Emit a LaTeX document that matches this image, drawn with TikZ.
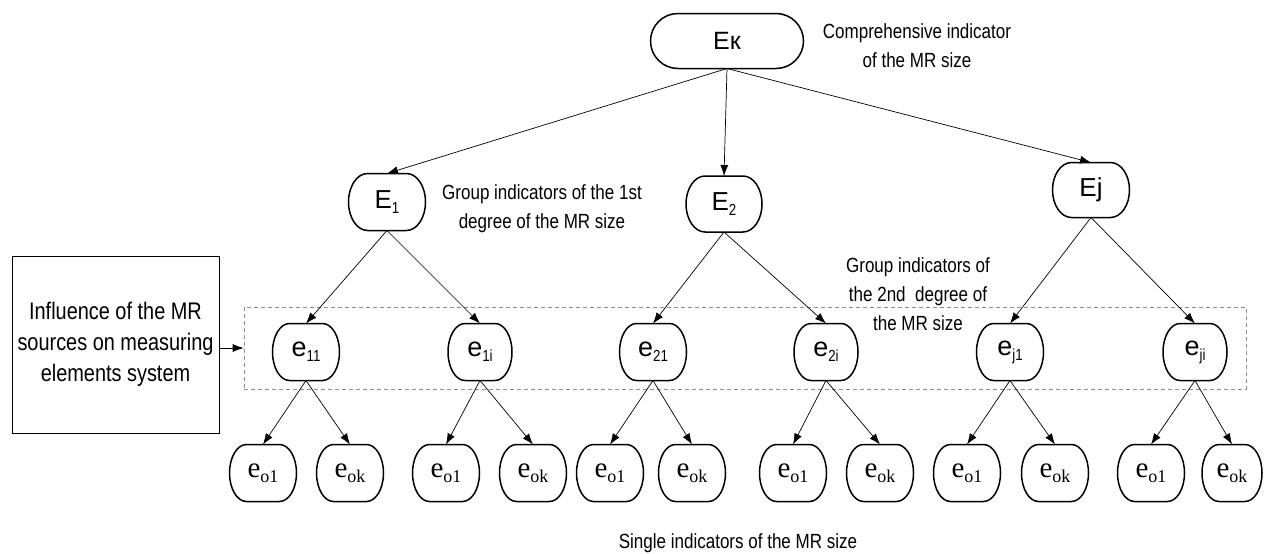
\documentclass[tikz,border=0pt]{standalone}
\usepackage{fontspec}
\setmainfont{Liberation Sans}
\newfontfamily\narrowfont[FakeStretch=0.83]{Liberation Sans}
\newfontfamily\serifont{Liberation Serif}
\usetikzlibrary{arrows.meta}
\newcommand{\subsans}[1]{\raisebox{-5pt}{\narrowfont\fontsize{16}{16}\selectfont #1}}
\newcommand{\subserif}[1]{\raisebox{-5pt}{\serifont\fontsize{18}{18}\selectfont #1}}
\tikzset{
  ind/.style={inner sep=0pt, outer sep=0pt, minimum width=67pt, minimum height=57pt,
    font=\fontsize{27}{27}\selectfont},
  topind/.style={ind, minimum width=153pt, minimum height=55pt, font=\fontsize{25}{25}\selectfont},
  firstind/.style={ind, minimum width=77pt, minimum height=57pt, font=\fontsize{26}{26}\selectfont},
  single/.style={ind, font=\serifont\fontsize{29}{29}\selectfont},
  border/.style={draw, line width=1.5pt},
  lbl/.style={font=\narrowfont\fontsize{20.5}{29}\selectfont, align=center, inner sep=0pt},
  arr/.style={-{Latex[length=11pt,width=8pt]}, line width=0.7pt},
  grpbox/.style={draw=black!45, line width=0.6pt, dash pattern=on 4pt off 3pt},
  srcbox/.style={draw, line width=0.8pt, minimum width=207pt, minimum height=177pt,
    align=center, font=\narrowfont\fontsize{24}{31}\selectfont},
}
% soft box border: node name, horizontal corner radius, half height
\newcommand{\softborder}[3]{%
  \draw[border] ([xshift=#2]#1.north west) -- ([xshift=-#2]#1.north east)
    arc[start angle=90, end angle=-90, x radius=#2, y radius=#3]
    -- ([xshift=#2]#1.south west)
    arc[start angle=270, end angle=90, x radius=#2, y radius=#3] -- cycle;}
\begin{document}
\begin{tikzpicture}[x=1pt,y=-1pt]
\useasboundingbox (0,0) rectangle (1264,554);

% dashed group of second-degree indicators
\node[grpbox, minimum width=1002pt, minimum height=82pt, inner sep=0pt] (grp) at (745,348) {};

% source box
\node[srcbox] (src) at (115.5,344.5) {Influence of the MR\\sources on measuring\\elements system};

% top
\node[topind] (Ek) at (727,41) {Eк};

% first degree
\node[firstind] (E1) at (387,202) {E\subsans{1}};
\node[firstind, minimum width=76pt, minimum height=56pt] (E2) at (724,204) {E\subsans{2}};
\node[firstind, minimum width=77pt, minimum height=55pt] (Ej) at (1091,190) {Ej};

% second degree
\node[ind] (e11) at (306,352) {e\subsans{11}};
\node[ind, minimum width=64pt] (e1i) at (480,352) {e\subsans{1i}};
\node[ind] (e21) at (653,352) {e\subsans{21}};
\node[ind, minimum width=64pt] (e2i) at (826,352) {e\subsans{2i}};
\node[ind] (ej1) at (1010,352) {e\subsans{j1}};
\node[ind, minimum width=64pt] (eji) at (1195,352) {e\subsans{ji}};

% single indicators
\node[single] (a1) at (263,473) {e\subserif{o1}};
\node[single] (a2) at (350,473) {e\subserif{ok}};
\node[single] (b1) at (446,473) {e\subserif{o1}};
\node[single] (b2) at (533,473) {e\subserif{ok}};
\node[single] (c1) at (610,473) {e\subserif{o1}};
\node[single] (c2) at (692,473) {e\subserif{ok}};
\node[single] (d1) at (793,473) {e\subserif{o1}};
\node[single] (d2) at (880,473) {e\subserif{ok}};
\node[single] (f1) at (967,473) {e\subserif{o1}};
\node[single] (f2) at (1055,473) {e\subserif{ok}};
\node[single] (g1) at (1151,473) {e\subserif{o1}};
\node[single, minimum width=60pt] (g2) at (1232,473) {e\subserif{ok}};

% borders of the indicator nodes
\softborder{Ek}{27.5pt}{27.5pt}
\softborder{E1}{19pt}{28.5pt}
\softborder{E2}{19pt}{28pt}
\softborder{Ej}{19pt}{27.5pt}
\foreach \n in {e11,e1i,e21,e2i,ej1,eji,a1,a2,b1,b2,c1,c2,d1,d2,f1,f2,g1,g2}
  {\softborder{\n}{17pt}{28.5pt}}

% labels
\node[lbl] (lk) at (917,46) {Comprehensive indicator\\of the MR size};
\node[lbl] (l1) at (542,209) {Group indicators of the 1st\\degree of the MR size};
\node[lbl] (l2) at (918,294) {Group indicators of\\the 2nd\ \ degree of\\the MR size};
\node[lbl] (ls) at (738,543) {Single indicators of the MR size};

% connectors
\draw[arr] (Ek.south) -- (E1.north);
\draw[arr] (Ek.south) -- (E2.north);
\draw[arr] (Ek.south) -- (Ej.north);

\draw[arr] (E1.south) -- (e11.north);
\draw[arr] (E1.south) -- (e1i.north);
\draw[arr] (E2.south) -- (e21.north);
\draw[arr] (E2.south) -- (e2i.north);
\draw[arr] (Ej.south) -- (ej1.north);
\draw[arr] (Ej.south) -- (eji.north);

\draw[arr] (e11.south) -- (a1.north);
\draw[arr] (e11.south) -- (a2.north);
\draw[arr] (e1i.south) -- (b1.north);
\draw[arr] (e1i.south) -- (b2.north);
\draw[arr] (e21.south) -- (c1.north);
\draw[arr] (e21.south) -- (c2.north);
\draw[arr] (e2i.south) -- (d1.north);
\draw[arr] (e2i.south) -- (d2.north);
\draw[arr] (ej1.south) -- (f1.north);
\draw[arr] (ej1.south) -- (f2.north);
\draw[arr] (eji.south) -- (g1.north);
\draw[arr] (eji.south) -- (g2.north);

\draw[arr] (src.east |- grp.west) -- (grp.west);
\end{tikzpicture}
\end{document}
